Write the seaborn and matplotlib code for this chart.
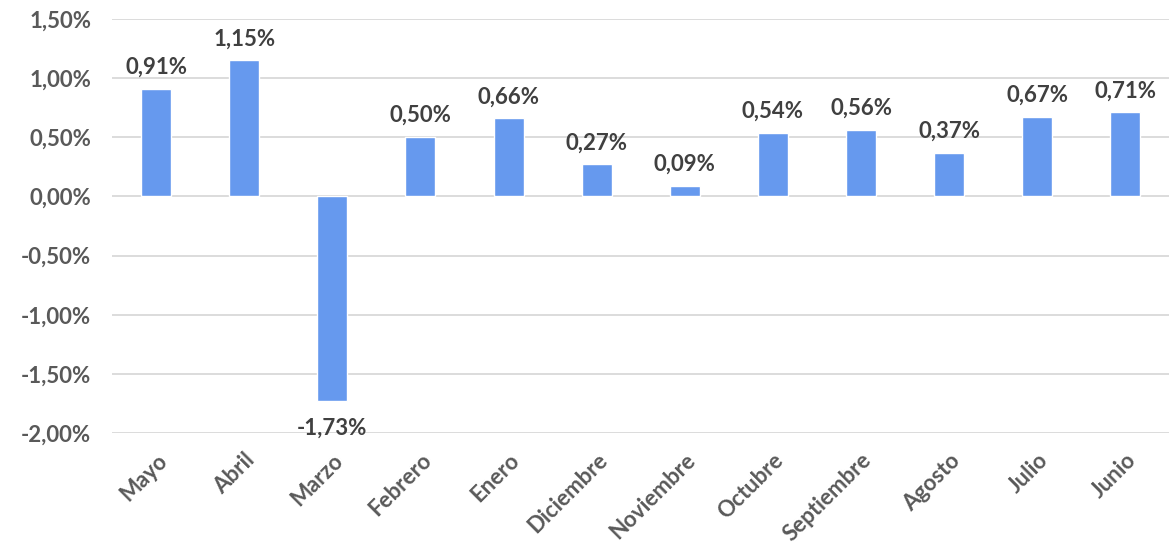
import matplotlib
matplotlib.use("Agg")
import matplotlib.pyplot as plt
import seaborn as sns
import pandas as pd
from matplotlib.ticker import FuncFormatter

months = ["Mayo", "Abril", "Marzo", "Febrero", "Enero", "Diciembre", "Noviembre",
          "Octubre", "Septiembre", "Agosto", "Julio", "Junio"]
values = [0.91, 1.15, -1.73, 0.50, 0.66, 0.27, 0.09, 0.54, 0.56, 0.37, 0.67, 0.71]
yticks = [-2.0, -1.5, -1.0, -0.5, 0.0, 0.5, 1.0, 1.5]

sns.set_style("white")
plt.rcParams['font.family'] = ['Lato', 'DejaVu Sans']

df = pd.DataFrame({"mes": months, "valor": values})

fig = plt.figure(figsize=(11.73, 5.43), dpi=100)
ax = fig.add_axes([0.0955, 0.2026, 0.9015, 0.7624])
sns.barplot(data=df, x="mes", y="valor", color="#6699EE", saturation=1,
            width=0.34, ax=ax, zorder=3)

ax.set_ylim(-2.0, 1.5)
ax.set_yticks(yticks)
ax.yaxis.set_major_formatter(FuncFormatter(lambda v, p: f"{v:.2f}%".replace(".", ",")))
ax.grid(axis="y", color="#D9D9D9", linewidth=1.3, zorder=0)
ax.set_axisbelow(True)
for s in ax.spines.values():
    s.set_visible(False)
ax.set_xlabel("")
ax.set_ylabel("")
ax.tick_params(axis="both", length=0, labelsize=16, labelcolor="#595959")
ax.tick_params(axis="y", pad=15)
for lab in ax.get_yticklabels():
    lab.set_fontweight("bold")
ax.set_xticks(range(len(months)))
ax.set_xticklabels(months, rotation=45, ha="right", rotation_mode="anchor",
                   fontweight="bold", fontsize=16, color="#595959")
ax.tick_params(axis="x", pad=12)

for i, v in enumerate(values):
    txt = f"{v:.2f}%".replace(".", ",")
    if v >= 0:
        ax.annotate(txt, (i, v), xytext=(0, 8), textcoords="offset points",
                    ha="center", va="bottom", fontsize=16, fontweight="bold", color="#404040")
    else:
        ax.annotate(txt, (i, v), xytext=(0, -12), textcoords="offset points",
                    ha="center", va="top", fontsize=16, fontweight="bold", color="#404040")

fig.savefig("out.png", dpi=100)
